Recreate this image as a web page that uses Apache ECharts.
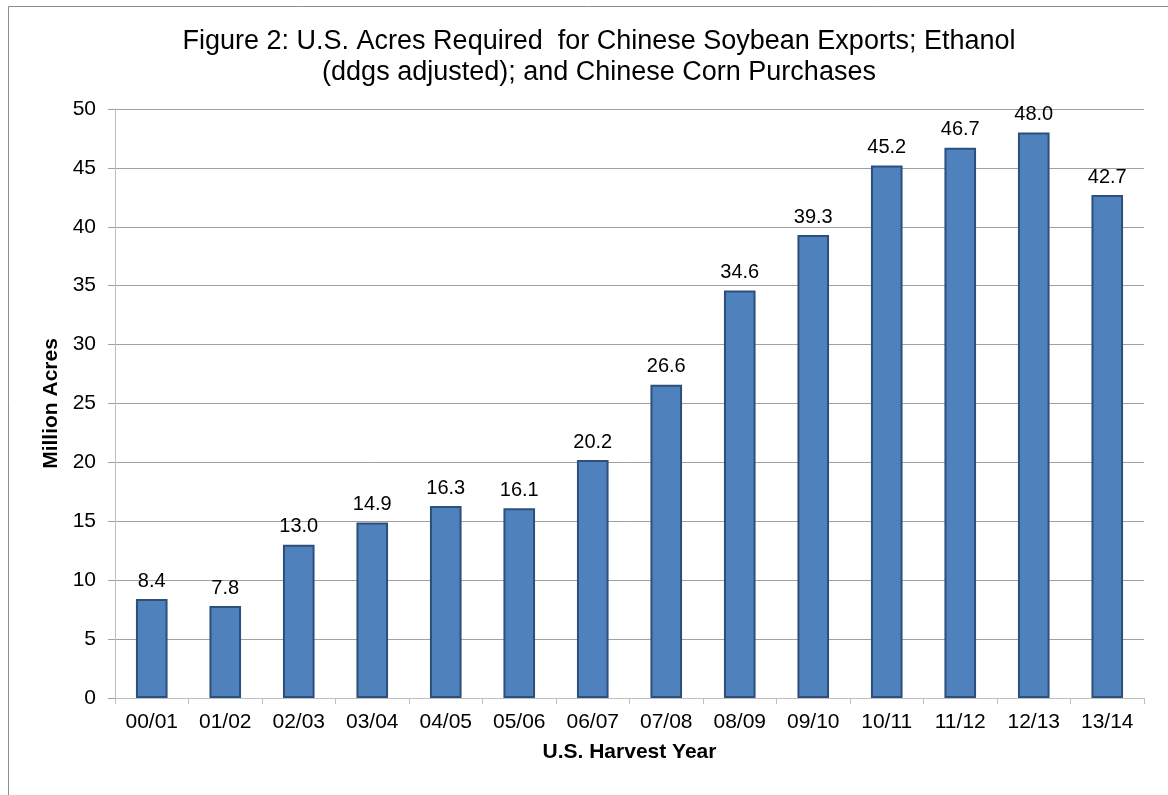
<!DOCTYPE html>
<html>
<head>
<meta charset="utf-8">
<script src="https://cdn.jsdelivr.net/npm/echarts@6/dist/echarts.min.js"></script>
<style>
html,body{margin:0;padding:0;background:#fff;}
#c{width:1168px;height:795px;}
</style>
</head>
<body>
<div id="c"></div>
<script>
const categories = ["00/01","01/02","02/03","03/04","04/05","05/06","06/07","07/08","08/09","09/10","10/11","11/12","12/13","13/14"];
const acres = [8.4, 7.8, 13.0, 14.9, 16.3, 16.1, 20.2, 26.6, 34.6, 39.3, 45.2, 46.7, 48.0, 42.7];
const yTicks = {min: 0, max: 50, interval: 5};

const chart = echarts.init(document.getElementById('c'), null, {renderer: 'canvas'});
const font = 'Liberation Sans, Arial, sans-serif';
chart.setOption({
  animation: false,
  backgroundColor: '#ffffff',
  graphic: [{
    type: 'rect', silent: true, z: -1,
    shape: {x: 8.5, y: 6.5, width: 1300, height: 900},
    style: {fill: 'none', stroke: '#8c8c8c', lineWidth: 1}
  }],
  title: {
    text: 'Figure 2: U.S. Acres Required  for Chinese Soybean Exports; Ethanol\n(ddgs adjusted); and Chinese Corn Purchases',
    left: 594, top: 21, textAlign: 'center',
    textStyle: {fontFamily: font, fontSize: 27, fontWeight: 'normal', color: '#000', lineHeight: 31}
  },
  grid: {left: 115, right: 24, top: 109, bottom: 97, containLabel: false},
  xAxis: {
    type: 'category', data: categories,
    name: 'U.S. Harvest Year', nameLocation: 'middle', nameGap: 44,
    nameTextStyle: {fontFamily: font, fontSize: 21, fontWeight: 'bold', color: '#000'},
    axisLine: {lineStyle: {color: '#bfbfbf', width: 1}},
    axisTick: {show: true, length: 6, lineStyle: {color: '#bfbfbf'}, alignWithLabel: false},
    axisLabel: {fontFamily: font, fontSize: 21, color: '#000', margin: 14, interval: 0}
  },
  yAxis: {
    type: 'value', min: yTicks.min, max: yTicks.max, interval: yTicks.interval,
    name: 'Million Acres', nameLocation: 'middle', nameGap: 50,
    nameTextStyle: {fontFamily: font, fontSize: 21, fontWeight: 'bold', color: '#000'},
    axisLine: {show: true, lineStyle: {color: '#bfbfbf', width: 1}},
    axisTick: {show: true, length: 7, inside: false, lineStyle: {color: '#a0a0a0'}},
    axisLabel: {fontFamily: font, fontSize: 21, color: '#000', margin: 19},
    splitLine: {show: true, lineStyle: {color: '#a0a0a0', width: 1}}
  },
  series: [{
    type: 'bar', data: acres, barWidth: '43%',
    itemStyle: {color: '#4f81bd', borderColor: '#2c4f7c', borderWidth: 2},
    label: {
      show: true, position: 'top', distance: 8,
      fontFamily: font, fontSize: 20, color: '#000',
      formatter: p => p.value.toFixed(1)
    }
  }]
});
</script>
</body>
</html>
